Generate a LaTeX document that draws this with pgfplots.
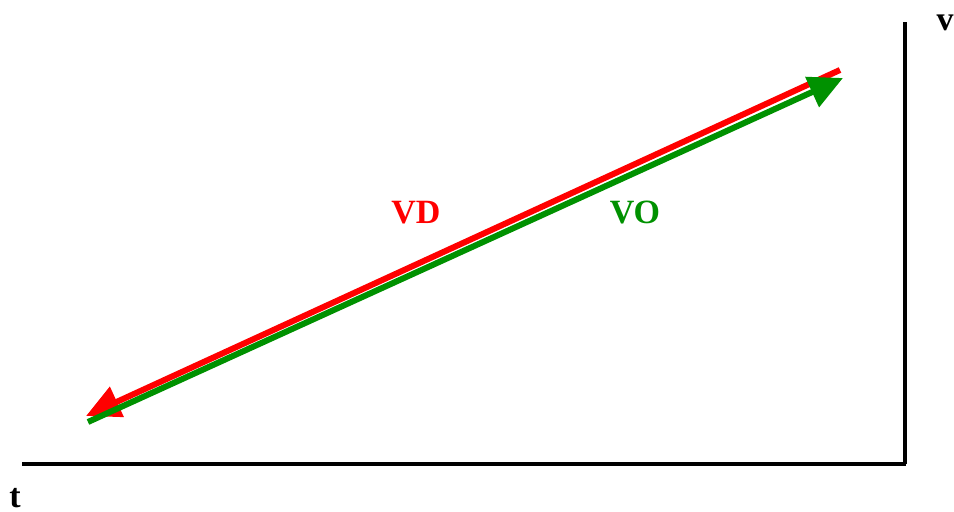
\documentclass[border=0pt]{standalone}
\usepackage{pgfplots}
\pgfplotsset{compat=1.18}
\usepackage{fontspec}
\setmainfont{Liberation Serif}
\usetikzlibrary{arrows.meta}
\definecolor{vdred}{RGB}{255,0,0}
\definecolor{vogreen}{RGB}{0,145,0}
\begin{document}
\begin{tikzpicture}
\begin{axis}[
  hide axis, scale only axis, width=477pt, height=256pt,
  xmin=0, xmax=954, ymin=0, ymax=512, clip=false]
\path (axis cs:0,0) rectangle (axis cs:954,512);
% axes
\addplot[black, line width=2pt] coordinates {(22,48) (906,48)};
\addplot[black, line width=2pt] coordinates {(905,48) (905,490)};
% lines
\addplot[vdred, line width=3pt, -{Triangle[length=17pt,width=16pt]}] coordinates {(840,442) (86,96)};
\addplot[vogreen, line width=3pt, -{Triangle[length=17pt,width=16pt]}] coordinates {(88,90) (843,434)};
\node[inner sep=0pt, text=vdred, font=\fontsize{17pt}{20pt}\selectfont\bfseries] at (axis cs:416,299) {VD};
\node[inner sep=0pt, text=vogreen, font=\fontsize{17pt}{20pt}\selectfont\bfseries] at (axis cs:635,299) {VO};
\node[inner sep=0pt, font=\fontsize{17pt}{20pt}\selectfont\bfseries] at (axis cs:945,489) {v};
\node[inner sep=0pt, font=\fontsize{17pt}{20pt}\selectfont\bfseries] at (axis cs:15,14) {t};
\end{axis}
\end{tikzpicture}
\end{document}
